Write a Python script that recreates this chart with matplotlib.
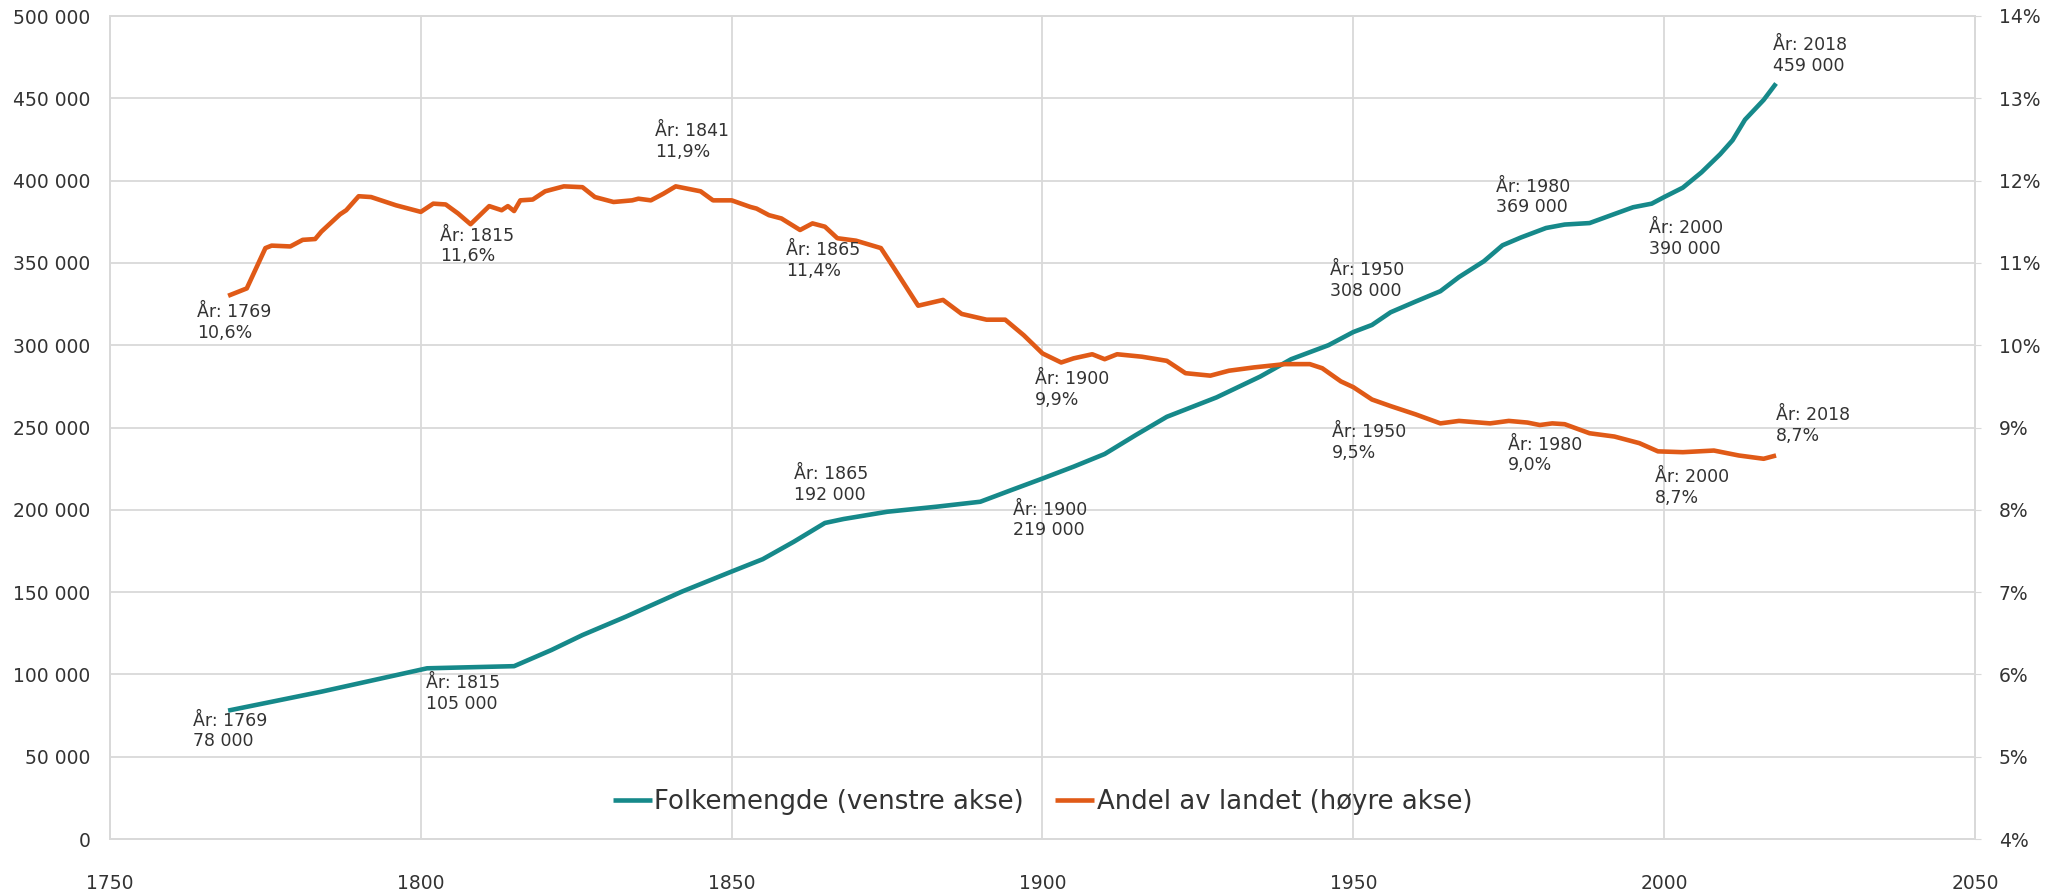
import matplotlib
matplotlib.use("Agg")
import matplotlib.pyplot as plt
from matplotlib.ticker import FuncFormatter, MultipleLocator

# Folkemengde (venstre akse)
pop_years = [1769, 1784, 1801, 1815, 1821, 1826, 1833, 1842, 1850, 1855, 1860,
             1865, 1868, 1875, 1883, 1890, 1895, 1900, 1905, 1910, 1915, 1920,
             1928, 1935, 1940, 1946, 1950, 1953, 1956, 1960, 1964, 1967, 1971,
             1974, 1977, 1981, 1984, 1988, 1992, 1995, 1998, 2000, 2003, 2006,
             2009, 2011, 2013, 2016, 2018]
pop_values = [78000, 89500, 103700, 105000, 114800, 123900, 135100, 150300,
              162500, 170000, 180600, 192000, 194400, 198800, 201900, 204900,
              212000, 219000, 226200, 233900, 245400, 256500, 268300, 280900,
              291500, 300000, 308000, 312300, 320000, 326500, 332800, 341400,
              351000, 360700, 365500, 371200, 373300, 374200, 379700, 383800,
              386000, 390000, 395700, 405000, 416000, 424500, 437000, 449000,
              459000]

# Andel av landet (hoyre akse), prosent
share_years = [1769, 1772, 1775, 1776, 1779, 1781, 1783, 1784, 1787, 1788,
               1790, 1792, 1796, 1800, 1802, 1804, 1806, 1808, 1811, 1813,
               1814, 1815, 1816, 1818, 1820, 1823, 1826, 1828, 1831, 1834,
               1835, 1837, 1839, 1841, 1845, 1847, 1850, 1853, 1854, 1856,
               1858, 1861, 1863, 1865, 1867, 1870, 1874, 1876, 1880, 1884,
               1887, 1891, 1894, 1897, 1900, 1903, 1905, 1908, 1910, 1912,
               1916, 1920, 1923, 1927, 1930, 1934, 1939, 1943, 1945, 1948,
               1950, 1953, 1956, 1960, 1964, 1967, 1972, 1975, 1978, 1980,
               1982, 1984, 1988, 1992, 1996, 1999, 2003, 2008, 2012, 2016, 2018]
share_values = [10.60, 10.69, 11.18, 11.21, 11.20, 11.28, 11.29, 11.38, 11.59,
                11.64, 11.81, 11.80, 11.70, 11.62, 11.72, 11.71, 11.60, 11.47,
                11.69, 11.64, 11.69, 11.63, 11.76, 11.77, 11.87, 11.93, 11.92,
                11.80, 11.74, 11.76, 11.78, 11.76, 11.84, 11.93, 11.87, 11.76,
                11.76, 11.68, 11.66, 11.58, 11.54, 11.40, 11.48, 11.44, 11.30,
                11.27, 11.18, 10.95, 10.48, 10.55, 10.38, 10.31, 10.31, 10.12,
                9.90, 9.79, 9.84, 9.89, 9.83, 9.89, 9.86, 9.81, 9.66, 9.63,
                9.69, 9.73, 9.77, 9.77, 9.72, 9.56, 9.49, 9.34, 9.26, 9.16,
                9.05, 9.08, 9.05, 9.08, 9.06, 9.03, 9.05, 9.04, 8.93, 8.89,
                8.81, 8.71, 8.70, 8.72, 8.66, 8.62, 8.66]

# labelled points
pop_label_years = [1769, 1815, 1865, 1900, 1950, 1980, 2000, 2018]
pop_label_values = [78000, 105000, 192000, 219000, 308000, 369000, 390000, 459000]
share_label_years = [1769, 1815, 1841, 1865, 1900, 1950, 1980, 2000, 2018]
share_label_values = [10.6, 11.6, 11.9, 11.4, 9.9, 9.5, 9.0, 8.7, 8.7]

# text offsets in pixels (left/top of label relative to the point)
pop_offsets = [(-35, -1), (-88, -8), (-31, 58), (-29, -22), (-23, 71),
               (-44, 54), (-15, -22), (-3, 47)]
share_offsets = [(-31, -7), (-74, -13), (-21, 67), (-39, -11), (-8, -17),
                 (-21, -37), (-32, -8), (-9, -16), (0, 46)]

TEAL = "#16898a"
ORANGE = "#e05a17"
GRID = "#d9d9d9"
TXT = "#333333"

plt.rcParams['font.family'] = ['DejaVu Sans']

fig = plt.figure(figsize=(20.64, 8.96), dpi=100)
ax = fig.add_axes([110 / 2064, 1 - 839 / 896, (1975 - 110) / 2064, (839 - 16) / 896])
ax2 = ax.twinx()

line_pop, = ax.plot(pop_years, pop_values, color=TEAL, lw=3.3,
                    solid_capstyle='butt', label='Folkemengde (venstre akse)')
line_share, = ax2.plot(share_years, share_values, color=ORANGE, lw=3.3,
                       solid_capstyle='butt', label='Andel av landet (høyre akse)')

ax.set_xlim(1750, 2050)
ax.set_ylim(0, 500000)
ax2.set_ylim(4, 14)
ax.xaxis.set_major_locator(MultipleLocator(50))
ax.yaxis.set_major_locator(MultipleLocator(50000))
ax2.yaxis.set_major_locator(MultipleLocator(1))
ax.yaxis.set_major_formatter(FuncFormatter(lambda v, p: f"{int(v):,}".replace(",", " ")))
ax2.yaxis.set_major_formatter(FuncFormatter(lambda v, p: f"{int(round(v))}%"))

ax.grid(True, color=GRID, lw=1.3)
ax.set_axisbelow(True)
for a in (ax, ax2):
    for s in a.spines.values():
        s.set_color(GRID)
        s.set_linewidth(1.3)

ax.tick_params(axis='x', length=0, pad=25, labelsize=13.5, labelcolor=TXT)
ax.tick_params(axis='y', length=0, pad=14, labelsize=13.5, labelcolor=TXT)
ax2.tick_params(axis='y', length=4, color=GRID, pad=13, labelsize=13.5, labelcolor=TXT)

for yr, val, (dx, dy) in zip(pop_label_years, pop_label_values, pop_offsets):
    ax.annotate(f"År: {yr}\n{val:,}".replace(",", " "), xy=(yr, val),
                xytext=(dx, dy), textcoords='offset pixels', ha='left', va='top',
                fontsize=12.5, color=TXT, linespacing=1.2)
for yr, val, (dx, dy) in zip(share_label_years, share_label_values, share_offsets):
    ax2.annotate(f"År: {yr}\n{val:.1f}%".replace(".", ","), xy=(yr, val),
                 xytext=(dx, dy), textcoords='offset pixels', ha='left', va='top',
                 fontsize=12.5, color=TXT, linespacing=1.2)

ax2.legend(handles=[line_pop, line_share], loc='center', bbox_to_anchor=(0.5, 0.045),
           ncol=2, frameon=False, fontsize=18.7, handlelength=1.5, handletextpad=0.1,
           columnspacing=1.2, labelcolor=TXT)

fig.savefig("out.png", dpi=100)
